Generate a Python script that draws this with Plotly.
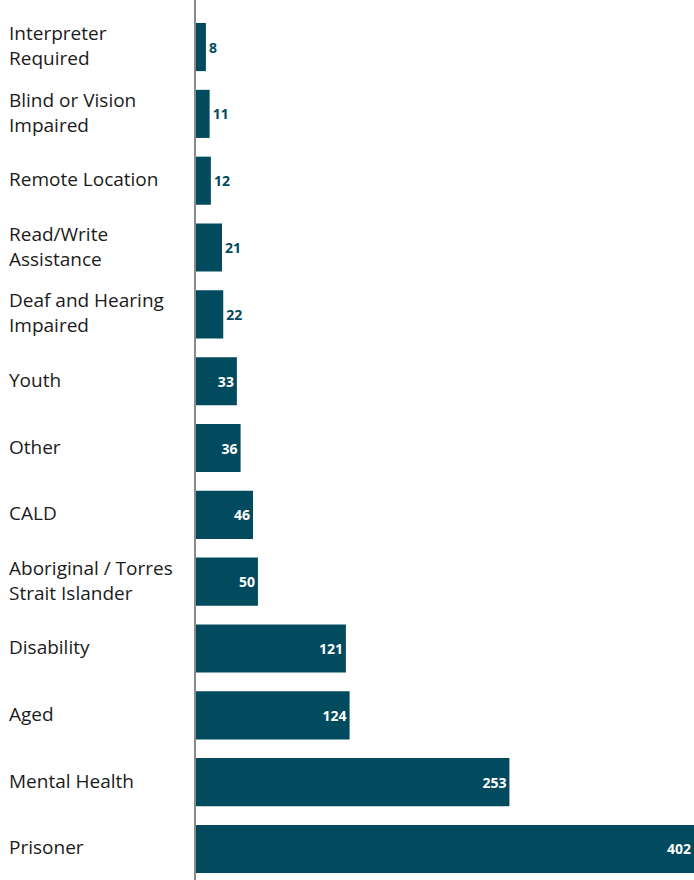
import plotly.graph_objects as go

categories = [
    "Interpreter<br>Required",
    "Blind or Vision<br>Impaired",
    "Remote Location",
    "Read/Write<br>Assistance",
    "Deaf and Hearing<br>Impaired",
    "Youth",
    "Other",
    "CALD",
    "Aboriginal / Torres<br>Strait Islander",
    "Disability",
    "Aged",
    "Mental Health",
    "Prisoner",
]
values = [8, 11, 12, 21, 22, 33, 36, 46, 50, 121, 124, 253, 402]

BAR = "#024a5e"
LEFT = 196
WIDTH, HEIGHT = 694, 880
plot_w = WIDTH - LEFT

# short bars carry their label outside, longer ones inside at the end
positions = ["outside" if v < 30 else "inside" for v in values]
idx = list(range(len(categories)))

fig = go.Figure(
    go.Bar(
        x=values,
        y=idx,
        orientation="h",
        marker=dict(color=BAR, line=dict(width=0)),
        text=[str(v) for v in values],
        textposition=positions,
        insidetextanchor="end",
        insidetextfont=dict(color="white", size=14, family="Open Sans", weight="bold"),
        outsidetextfont=dict(color=BAR, size=14, family="Open Sans", weight="bold"),
        constraintext="none",
        cliponaxis=False,
        hoverinfo="skip",
    )
)

for i, name in enumerate(categories):
    fig.add_annotation(
        x=(7 - LEFT) / plot_w,
        xref="paper",
        y=i,
        yref="y",
        yshift=1.5,
        text=name,
        xanchor="left",
        yanchor="middle",
        align="left",
        showarrow=False,
        font=dict(size=19, color="#1b1b1b", family="Open Sans"),
    )

fig.update_layout(
    width=WIDTH,
    height=HEIGHT,
    margin=dict(l=LEFT, r=0, t=0, b=0),
    paper_bgcolor="white",
    plot_bgcolor="white",
    bargap=0.28,
    showlegend=False,
    xaxis=dict(range=[0, 402], visible=False, fixedrange=True),
    yaxis=dict(
        range=[12.464, -0.704],
        showticklabels=False,
        showgrid=False,
        zeroline=False,
        showline=True,
        linecolor="#8a8a8a",
        linewidth=2,
        ticks="",
        fixedrange=True,
    ),
)

fig.write_html("out.html")
